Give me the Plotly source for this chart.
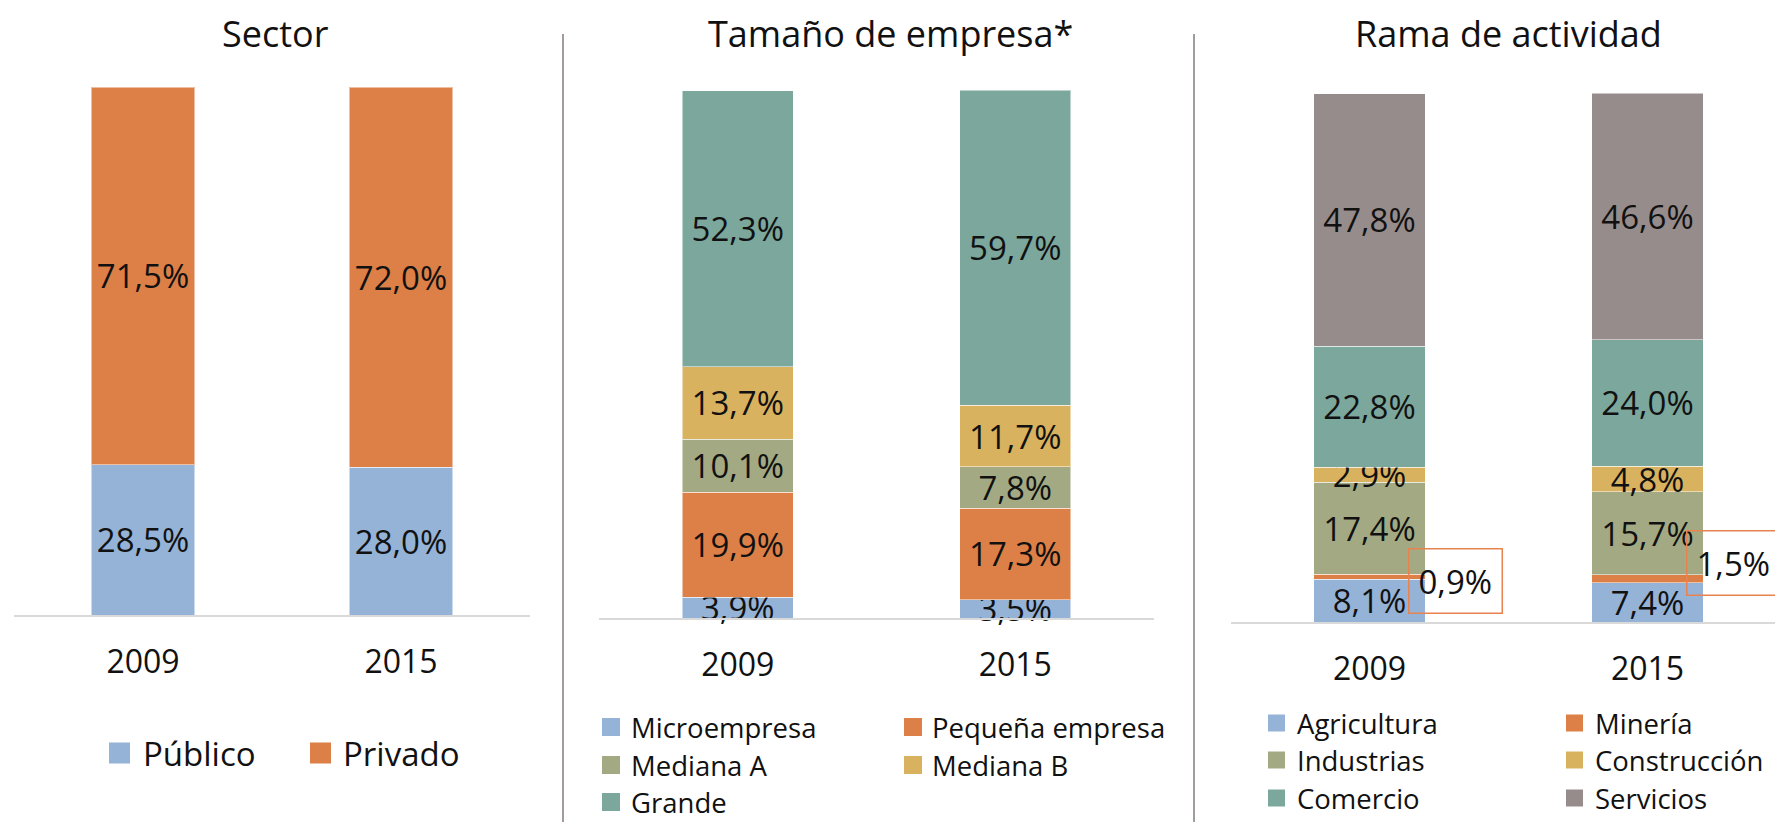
import plotly.graph_objects as go

W, H = 1775, 822

years = ["2009", "2015"]

# Sector
sector_names = ["Público", "Privado"]
publico = [28.5, 28.0]
privado = [71.5, 72.0]

# Tamaño de empresa
tamano_names = ["Microempresa", "Pequeña empresa", "Mediana A", "Mediana B", "Grande"]
micro = [3.9, 3.5]
pequena = [19.9, 17.3]
mediana_a = [10.1, 7.8]
mediana_b = [13.7, 11.7]
grande = [52.3, 59.7]

# Rama de actividad
rama_names = ["Agricultura", "Minería", "Industrias", "Construcción", "Comercio", "Servicios"]
agricultura = [8.1, 7.4]
mineria = [0.9, 1.5]
industrias = [17.4, 15.7]
construccion = [2.9, 4.8]
comercio = [22.8, 24.0]
servicios = [47.8, 46.6]

BLUE = "#95B3D7"
ORANGE = "#DD8047"
OLIVE = "#A3AA83"
GOLD = "#D9B25F"
TEAL = "#7BA79C"
MAUVE = "#968C8B"

FONT = "Open Sans"
LABEL_SIZE = 33

fig = go.Figure()


def add_stack(names, series, colors, xa, ya, no_label=()):
    for name, vals, col in zip(names, series, colors):
        fig.add_trace(go.Bar(
            x=years, y=vals, name=name,
            marker=dict(color=col, line=dict(color="rgba(255,255,255,0.5)", width=1)),
            xaxis=xa, yaxis=ya,
            texttemplate="" if name in no_label else "%{y:.1f}%",
            textposition="none" if name in no_label else "inside",
            insidetextanchor="middle",
            textangle=0,
            textfont=dict(family=FONT, size=LABEL_SIZE, color="#111111"),
            cliponaxis=False,
            showlegend=False,
        ))


add_stack(sector_names, [publico, privado], [BLUE, ORANGE], "x", "y")
add_stack(tamano_names, [micro, pequena, mediana_a, mediana_b, grande],
          [BLUE, ORANGE, OLIVE, GOLD, TEAL], "x2", "y2")
add_stack(rama_names, [agricultura, mineria, industrias, construccion, comercio, servicios],
          [BLUE, ORANGE, OLIVE, GOLD, TEAL, MAUVE], "x3", "y3", no_label=("Minería",))


def fmt(v):
    return f"{v:.1f}".replace(".", ",") + "%"


annotations = []
shapes = []

# panel titles
for text, px in [("Sector", 275), ("Tamaño de empresa*", 890), ("Rama de actividad", 1508)]:
    annotations.append(dict(text=text, x=px / W, y=1 - 33 / H, xref="paper", yref="paper",
                            xanchor="center", yanchor="middle", showarrow=False,
                            font=dict(family=FONT, size=36, color="#111111")))

# Minería callouts
for xv, yv, v in [(0.311, 7.8, mineria[0]), (1.3076, 11.15, mineria[1])]:
    annotations.append(dict(text=fmt(v), x=xv, y=yv, xref="x3", yref="y3",
                            showarrow=False, bordercolor="#E8834F", borderwidth=1.5,
                            borderpad=9, font=dict(family=FONT, size=LABEL_SIZE, color="#111111")))

# divider lines
for px in [563, 1194]:
    shapes.append(dict(type="line", xref="paper", yref="paper", x0=px / W, x1=px / W,
                       y0=0, y1=1 - 34 / H, line=dict(color="#A29C9E", width=2)))


# legends drawn by hand (big squares like the original)
def legend(names, colors, cols_x, rows_y, sq, fsize):
    for i, (name, col) in enumerate(zip(names, colors)):
        sx, tx = cols_x[i % 2]
        cy = rows_y[i // 2]
        shapes.append(dict(type="rect", xref="paper", yref="paper",
                           x0=sx / W, x1=(sx + sq) / W,
                           y0=1 - (cy + sq / 2) / H, y1=1 - (cy - sq / 2) / H,
                           line=dict(width=0), fillcolor=col))
        annotations.append(dict(text=name, x=tx / W, y=1 - cy / H, xref="paper", yref="paper",
                                xanchor="left", yanchor="middle", showarrow=False,
                                font=dict(family=FONT, size=fsize, color="#111111")))


legend(sector_names, [BLUE, ORANGE], [(109, 141), (310, 341)], [753], 21, 33)
legend(tamano_names, [BLUE, ORANGE, OLIVE, GOLD, TEAL],
       [(602, 629), (904, 930)], [727, 765, 802], 18, 27.5)
legend(rama_names, [BLUE, ORANGE, OLIVE, GOLD, TEAL, MAUVE],
       [(1268, 1295), (1566, 1593)], [723, 760, 798], 17, 27.5)

xcommon = dict(type="category", showline=True, linecolor="#D9D9D9", linewidth=2,
               showgrid=False, zeroline=False, ticks="", ticklabelstandoff=18,
               tickfont=dict(family=FONT, size=32, color="#111111"), fixedrange=True)
ycommon = dict(range=[0, 100], visible=False, showgrid=False, fixedrange=True)

fig.update_layout(
    width=W, height=H,
    margin=dict(l=0, r=0, t=0, b=0),
    paper_bgcolor="white", plot_bgcolor="white",
    barmode="stack", bargap=0.6,
    separators=",.",
    uniformtext=dict(mode="show", minsize=LABEL_SIZE),
    font=dict(family=FONT, color="#111111"),
    xaxis=dict(xcommon, domain=[14 / W, 530 / W], range=[-0.5, 1.5], anchor="y"),
    yaxis=dict(ycommon, domain=[1 - 615 / H, 1 - 87 / H], anchor="x"),
    xaxis2=dict(xcommon, domain=[599 / W, 1154 / W], range=[-0.5, 1.5], anchor="y2"),
    yaxis2=dict(ycommon, domain=[1 - 618 / H, 1 - 90 / H], anchor="x2"),
    xaxis3=dict(xcommon, domain=[1230.5 / W, 1], range=[-0.5, 1.4586], anchor="y3"),
    yaxis3=dict(ycommon, domain=[1 - 622 / H, 1 - 93 / H], anchor="x3"),
    annotations=annotations,
    shapes=shapes,
)

# the page's default body margin would push the figure 8px off the window
fig.write_html("out.html", config={"displayModeBar": False},
               post_script="document.body.style.margin='0';")
